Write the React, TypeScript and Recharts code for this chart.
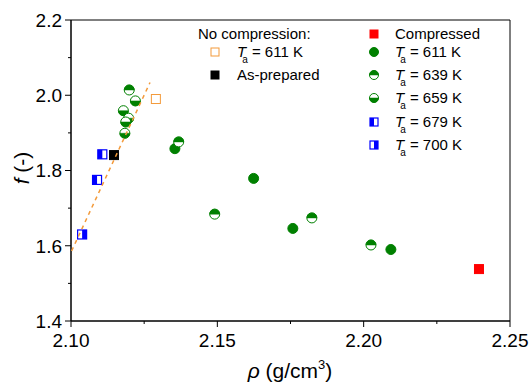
import React from 'react';
import { ScatterChart, Scatter, XAxis, YAxis, ReferenceArea, Customized } from 'recharts';

// ---- data ----
const rhoNoComp611 = [2.129];
const fNoComp611 = [1.99];
const rhoAsPrepared = [2.1147];
const fAsPrepared = [1.841];
const rhoCompressed = [2.2394];
const fCompressed = [1.538];
const rho611 = [2.1355, 2.1624, 2.1758, 2.2093];
const f611 = [1.858, 1.779, 1.646, 1.59];
const rho639 = [2.1199, 2.1368, 2.1491, 2.1823, 2.2025];
const f639 = [2.014, 1.876, 1.684, 1.674, 1.602];
const rho659 = [2.122, 2.1179, 2.1197, 2.1187, 2.1184];
const f659 = [1.985, 1.959, 1.939, 1.929, 1.899];
const rho679 = [2.1107, 2.1089];
const f679 = [1.843, 1.775];
const rho700 = [2.1038];
const f700 = [1.63];
const rhoFit = [2.1002, 2.127];
const fFit = [1.586, 2.034];

const xTicks = [2.1, 2.125, 2.15, 2.175, 2.2, 2.225, 2.25];
const yTicks = [1.4, 1.5, 1.6, 1.7, 1.8, 1.9, 2.0, 2.1, 2.2];

const zip = (xs: number[], ys: number[]) => xs.map((x, i) => ({ rho: x, f: ys[i] }));

const FONT = '"Liberation Sans", Arial, sans-serif';
const GREEN = '#008000';
const BLUE = '#0000ff';
const ORANGE = '#f39a3a';
const RED = '#ff0000';

// ---- marker shapes ----
const Sq = ({ cx, cy, fill, stroke, s = 9 }: any) => (
  <rect x={cx - s / 2} y={cy - s / 2} width={s} height={s} fill={fill} stroke={stroke} strokeWidth={1} />
);
const FullCircle = ({ cx, cy, r = 5 }: any) => <circle cx={cx} cy={cy} r={r} fill={GREEN} stroke={GREEN} strokeWidth={1} />;
const HalfCircle = ({ cx, cy, top, r = 5 }: any) => (
  <g>
    <circle cx={cx} cy={cy} r={r} fill="#fff" stroke={GREEN} strokeWidth={1} />
    <path
      d={`M${cx - r},${cy} A${r},${r} 0 0 ${top ? 1 : 0} ${cx + r},${cy} Z`}
      fill={GREEN}
      stroke={GREEN}
      strokeWidth={0.5}
    />
  </g>
);
const HalfSquare = ({ cx, cy, left, s = 9 }: any) => (
  <g>
    <rect x={cx - s / 2} y={cy - s / 2} width={s} height={s} fill="#fff" stroke={BLUE} strokeWidth={1.2} />
    <rect x={left ? cx - s / 2 : cx} y={cy - s / 2} width={s / 2} height={s} fill={BLUE} />
  </g>
);

// ---- ticks ----
const XTick = (props: any) => {
  const { x, y, payload } = props;
  const v = payload.value;
  const major = Math.round(v * 1000) % 50 === 0;
  return (
    <g>
      <line x1={x} x2={x} y1={y} y2={y + (major ? 6 : 3)} stroke="#000" strokeWidth={1} />
      {major && (
        <text x={x} y={y + 26} textAnchor="middle" fontFamily={FONT} fontSize={19} fill="#000">
          {v.toFixed(2)}
        </text>
      )}
    </g>
  );
};
const YTick = (props: any) => {
  const { x, y, payload } = props;
  const v = payload.value;
  const major = Math.round(v * 10) % 2 === 0;
  return (
    <g>
      <line x1={x - (major ? 6 : 3)} x2={x} y1={y} y2={y} stroke="#000" strokeWidth={1} />
      {major && (
        <text x={x - 9} y={y + 6.8} textAnchor="end" fontFamily={FONT} fontSize={19} fill="#000">
          {v.toFixed(1)}
        </text>
      )}
    </g>
  );
};

const Ta = ({ x, y, value }: any) => (
  <text x={x} y={y} fontFamily={FONT} fontSize={15} fill="#000">
    <tspan fontStyle="italic">T</tspan>
    <tspan dx={-4} dy={6} fontSize={10}>a</tspan>
    <tspan dy={-6}>{` = ${value} K`}</tspan>
  </text>
);

const Overlay = () => (
  <g>
    {/* axis titles */}
    <text x={290} y={378} textAnchor="middle" fontFamily={FONT} fontSize={21} fill="#000">
      <tspan fontStyle="italic">ρ</tspan>
      <tspan>{' (g/cm'}</tspan>
      <tspan fontSize={13} dy={-9}>3</tspan>
      <tspan dy={9}>)</tspan>
    </text>
    <text transform="translate(29,168) rotate(-90)" textAnchor="middle" fontFamily={FONT} fontSize={21} fill="#000">
      <tspan fontStyle="italic">f</tspan>
      <tspan>{' (-)'}</tspan>
    </text>
    {/* legend left column */}
    <text x={198} y={39} fontFamily={FONT} fontSize={15} fill="#000">No compression:</text>
    <Sq cx={215} cy={52} s={8} fill="#fff" stroke={ORANGE} />
    <Ta x={237} y={57} value="611" />
    <Sq cx={215} cy={75} s={8} fill="#000" stroke="#000" />
    <text x={237} y={80} fontFamily={FONT} fontSize={15} fill="#000">As-prepared</text>
    {/* legend right column */}
    <Sq cx={374} cy={34} s={8} fill={RED} stroke={RED} />
    <text x={395} y={39} fontFamily={FONT} fontSize={15} fill="#000">Compressed</text>
    <FullCircle cx={374} cy={52} r={4.5} />
    <Ta x={395} y={57} value="611" />
    <HalfCircle cx={374} cy={75} top r={4.5} />
    <Ta x={395} y={80} value="639" />
    <HalfCircle cx={374} cy={98} r={4.5} />
    <Ta x={395} y={103} value="659" />
    <HalfSquare cx={374} cy={122} left s={8} />
    <Ta x={395} y={127} value="679" />
    <HalfSquare cx={374} cy={145} s={8} />
    <Ta x={395} y={150} value="700" />
  </g>
);

export default function App() {
  return (
    <div style={{ position: 'absolute', left: 0, top: 0, width: 529, height: 384, background: '#fff' }}>
      <ScatterChart width={529} height={384} margin={{ top: 20, right: 19, left: 0, bottom: 0 }}>
        <XAxis
          type="number"
          dataKey="rho"
          domain={[2.1, 2.25]}
          ticks={xTicks}
          interval={0}
          allowDataOverflow
          height={63}
          tickSize={0}
          tickMargin={0}
          tickLine={false}
          tick={<XTick />}
          axisLine={{ stroke: '#000', strokeWidth: 1 }}
        />
        <YAxis
          type="number"
          dataKey="f"
          domain={[1.4, 2.2]}
          ticks={yTicks}
          interval={0}
          allowDataOverflow
          width={71}
          tickSize={0}
          tickMargin={0}
          tickLine={false}
          tick={<YTick />}
          axisLine={{ stroke: '#000', strokeWidth: 1 }}
        />
        <ReferenceArea x1={2.1} x2={2.25} y1={1.4} y2={2.2} fill="none" fillOpacity={0} stroke="#000" strokeWidth={1} ifOverflow="visible" />
        <Scatter data={zip(rhoNoComp611, fNoComp611)} isAnimationActive={false} shape={(p: any) => <Sq cx={p.cx} cy={p.cy} s={9} fill="#fff" stroke={ORANGE} />} />
        <Scatter data={zip(rhoAsPrepared, fAsPrepared)} isAnimationActive={false} shape={(p: any) => <Sq cx={p.cx} cy={p.cy} s={9} fill="#000" stroke="#000" />} />
        <Scatter data={zip(rhoCompressed, fCompressed)} isAnimationActive={false} shape={(p: any) => <Sq cx={p.cx} cy={p.cy} s={9} fill={RED} stroke={RED} />} />
        <Scatter data={zip(rho611, f611)} isAnimationActive={false} shape={(p: any) => <FullCircle cx={p.cx} cy={p.cy} />} />
        <Scatter data={zip(rho639, f639)} isAnimationActive={false} shape={(p: any) => <HalfCircle cx={p.cx} cy={p.cy} top />} />
        <Scatter data={zip(rho659, f659)} isAnimationActive={false} shape={(p: any) => <HalfCircle cx={p.cx} cy={p.cy} />} />
        <Scatter data={zip(rho679, f679)} isAnimationActive={false} shape={(p: any) => <HalfSquare cx={p.cx} cy={p.cy} left />} />
        <Scatter data={zip(rho700, f700)} isAnimationActive={false} shape={(p: any) => <HalfSquare cx={p.cx} cy={p.cy} />} />
        <Scatter
          data={zip(rhoFit, fFit)}
          isAnimationActive={false}
          line={{ stroke: ORANGE, strokeWidth: 1.5, strokeDasharray: '4 4' }}
          shape={() => <g />}
        />
        <Customized component={Overlay} />
      </ScatterChart>
    </div>
  );
}
